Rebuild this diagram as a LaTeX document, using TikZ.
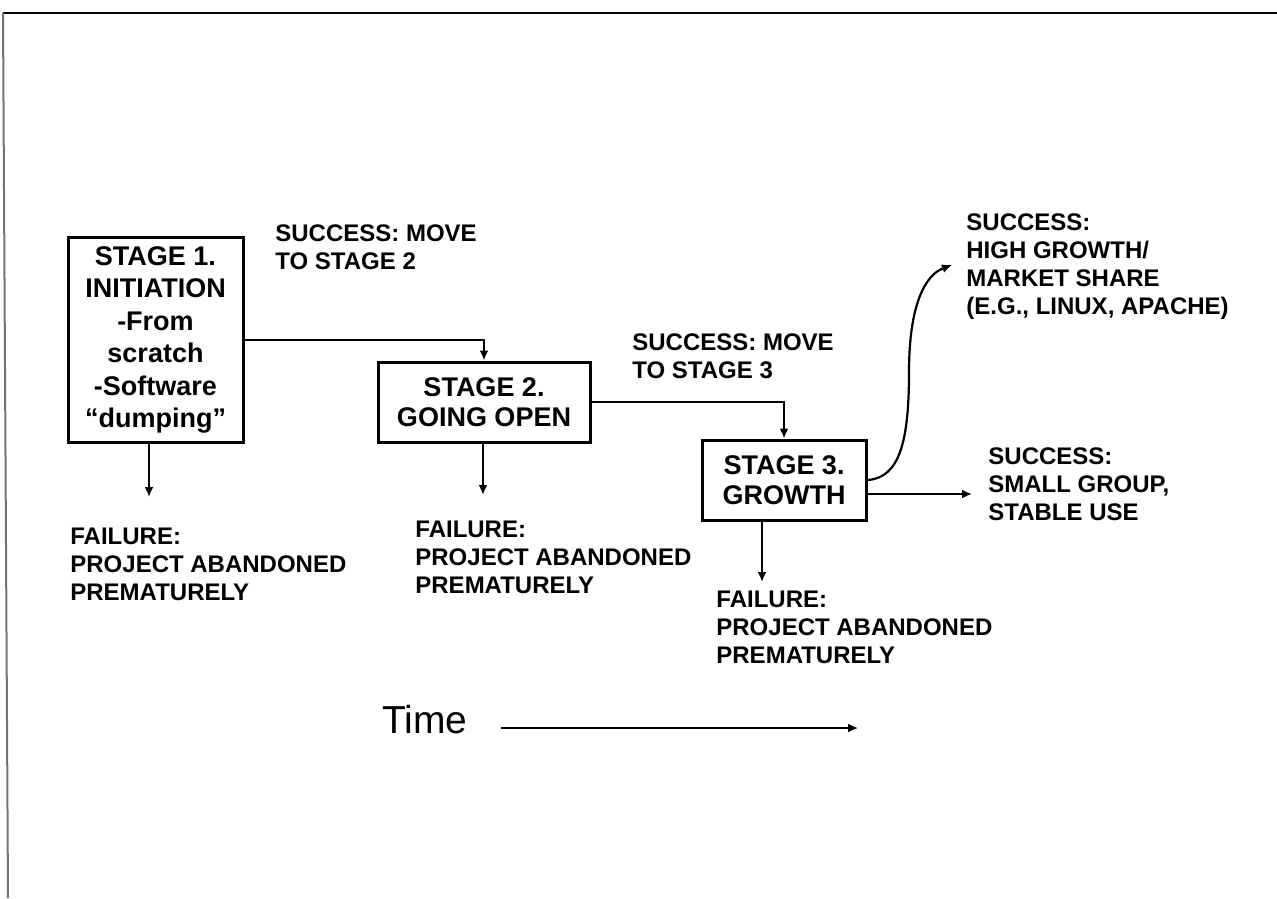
\documentclass[tikz,border=0pt]{standalone}
\usepackage{fontspec}
\setmainfont{Liberation Sans}
\usetikzlibrary{arrows, arrows.meta}

\begin{document}
\begin{tikzpicture}[x=0.5pt, y=-0.5pt,
  stagebox/.style={draw, line width=1.5pt, align=center, inner sep=0pt, font=\bfseries\fontsize{13.5}{15}\selectfont},
  outcome/.style={anchor=north west, align=left, inner sep=0pt, font=\bfseries\fontsize{12}{14}\selectfont},
  flow/.style={line width=1.1pt, -{Latex[length=5pt, width=4.5pt]}}]
  \useasboundingbox (0,0) rectangle (1277,898);
  \draw[line width=0.8pt] (1277,13) -- (3,13);
  \draw[line width=1pt, black!55] (3,13) -- (8,898);

  \node[stagebox, minimum width=87.5pt, minimum height=102pt, font=\bfseries\fontsize{13.5}{16.2}\selectfont] (s1) at (155.5,340) {STAGE 1.\\INITIATION\\-From\\scratch\\-Software\\“dumping”};
  \node[stagebox, minimum width=106pt, minimum height=40pt] (s2) at (484,402) {STAGE 2.\\GOING OPEN};
  \node[stagebox, minimum width=82pt, minimum height=40pt] (s3) at (784,480) {STAGE 3.\\GROWTH};

  \node[outcome] (succ2) at (275,224) {SUCCESS: MOVE\\TO STAGE 2};
  \node[outcome] (succ3) at (632,333) {SUCCESS: MOVE\\TO STAGE 3};
  \node[outcome] (high) at (966,213) {SUCCESS:\\HIGH GROWTH/\\MARKET SHARE\\(E.G., LINUX, APACHE)};
  \node[outcome] (small) at (988,447) {SUCCESS:\\SMALL GROUP,\\STABLE USE};
  \node[outcome] (fail1) at (70,528) {FAILURE:\\PROJECT ABANDONED\\PREMATURELY};
  \node[outcome] (fail2) at (415,521) {FAILURE:\\PROJECT ABANDONED\\PREMATURELY};
  \node[outcome] (fail3) at (716,591) {FAILURE:\\PROJECT ABANDONED\\PREMATURELY};
  \node[anchor=base west, inner sep=0pt, font=\fontsize{19.5}{23}\selectfont] (time) at (382,733) {Time};

  \coordinate (f1tip) at (149,497);
  \coordinate (f2tip) at (483,495);
  \coordinate (f3tip) at (762,582);
  \coordinate (bend) at (909,372);
  \coordinate (hightip) at (952,265);
  \coordinate (smalltip) at (972,494);
  \coordinate (timetip) at (858,728);

  \draw[flow] (s1.east) -| (s2.north);
  \draw[flow] (s2.east) -| (s3.north);
  \draw[flow] (s1.south -| f1tip) -- (f1tip);
  \draw[flow] (s2.south -| f2tip) -- (f2tip);
  \draw[flow] (s3.south -| f3tip) -- (f3tip);
  \draw[flow] (s3.east) .. controls (900,478) and (909,440) .. (bend) .. controls (909,305) and (925,275) .. (hightip);
  \draw[flow] (s3.east |- smalltip) -- (smalltip);
  \draw[flow, line width=0.9pt, shorten <=16.5pt] (time.east |- timetip) -- (timetip);
\end{tikzpicture}
\end{document}
